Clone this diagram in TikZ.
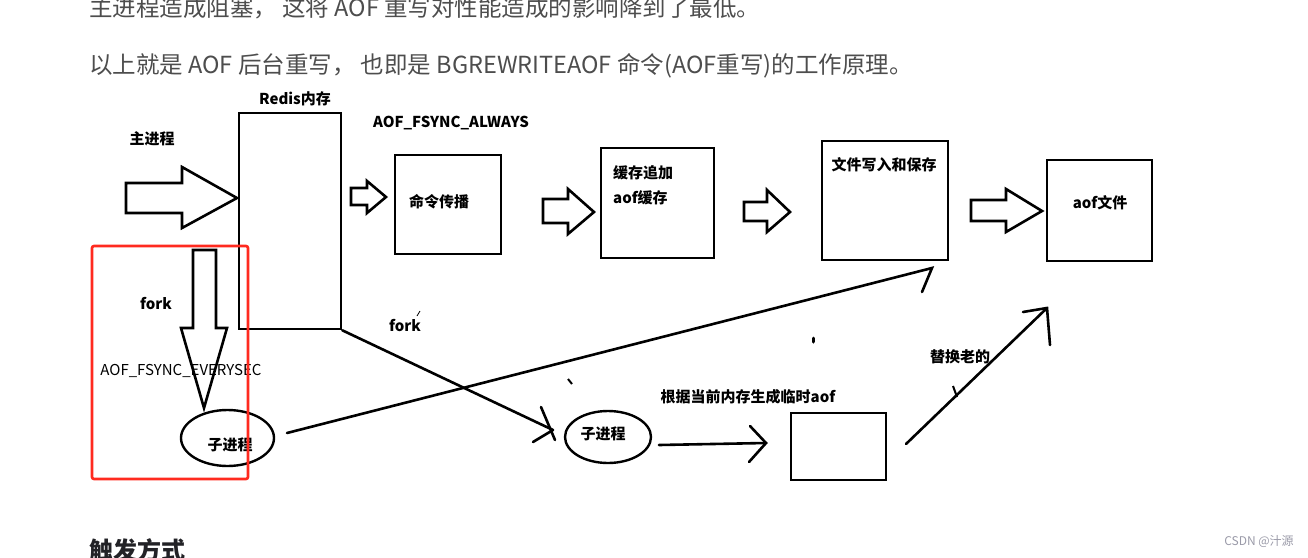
\documentclass[tikz,border=0pt]{standalone}
\usepackage{fontspec}
\setmainfont{Noto Sans CJK SC}
\usepackage{tikz}
\usetikzlibrary{shapes.geometric, calc}

\definecolor{textgrey}{HTML}{4D4D4D}
\definecolor{headgrey}{HTML}{222226}
\definecolor{csdngrey}{HTML}{9A9AA8}
\definecolor{markred}{HTML}{FF2A1F}

\tikzset{
  box/.style={draw, rectangle, line width=2.6pt, inner sep=0pt},
  blockarrow/.style={draw, line width=2.6pt, fill=white, line join=miter},
  proc/.style={draw, ellipse, line width=2.4pt, inner sep=0pt},
  stroke/.style={line width=2.6pt, line cap=round},
  lbl/.style={font=\bfseries\fontsize{15}{18}\selectfont, inner sep=0pt},
  para/.style={font=\fontsize{23.5}{28}\selectfont, text=textgrey, anchor=west, inner sep=0pt},
}

\begin{document}
\begin{tikzpicture}[x=1pt, y=-1pt]
    \useasboundingbox (0,0) rectangle (1308,557);
    \clip (0,0) rectangle (1308,557);
    % Text around the sketch
    \node[para] (para1) at (89,8) {主进程造成阻塞，\ 这将 AOF 重写对性能造成的影响降到了最低。};
    \node[para] (para2) at (89,66) {以上就是 AOF 后台重写，\ 也即是 BGREWRITEAOF 命令(AOF重写)的工作原理。};
    \node[anchor=west, inner sep=0pt, text=headgrey, font=\bfseries\fontsize{24}{28}\selectfont] (trigger) at (89,550) {触发方式};
    \node[inner sep=0pt, text=csdngrey, font=\fontsize{12}{14}\selectfont] (csdn) at (1259,542) {CSDN @汁源};

    % Block arrows
    \draw[blockarrow] (126,183) -- (182,183) -- (182,167) -- (237,198) -- (182,228) -- (182,213) -- (126,213) -- cycle;
    \draw[blockarrow] (351,188) -- (367,188) -- (367,181) -- (386,197) -- (367,213) -- (367,205) -- (351,205) -- cycle;
    \draw[blockarrow] (543,199) -- (568,199) -- (568,189) -- (594,212) -- (568,234) -- (568,223) -- (543,223) -- cycle;
    \draw[blockarrow] (744,202) -- (767,202) -- (767,190) -- (790,212) -- (767,232) -- (767,221) -- (744,221) -- cycle;
    \draw[blockarrow] (971,200) -- (1006,200) -- (1006,189) -- (1042,211) -- (1006,232) -- (1006,221) -- (971,221) -- cycle;
    \draw[blockarrow] (193,250) -- (216,250) -- (216,328) -- (227,328) -- (204,408) -- (181,328) -- (193,328) -- cycle;

    % Boxes
    \node[box, minimum width=102pt, minimum height=216pt] (redis) at (290,221) {};
    \node[box, minimum width=106pt, minimum height=99pt] (spread) at (448,204.5) {};
    \node[box, minimum width=113pt, minimum height=110pt] (buffer) at (657.5,203) {};
    \node[box, minimum width=126pt, minimum height=119pt] (filesave) at (885,200.5) {};
    \node[box, minimum width=105pt, minimum height=101pt] (aoffile) at (1099.5,210.5) {};
    \node[box, minimum width=95pt, minimum height=67pt] (tempaof) at (838.5,446.5) {};

    % Child processes
    \node[proc, minimum width=93pt, minimum height=56pt] (child1) at (227.5,438) {};
    \node[proc, minimum width=86pt, minimum height=52pt] (child2) at (608,437) {};

    % Labels
    \node[lbl] (redislbl) at (295,99) {Redis内存};
    \node[lbl] (mainlbl) at (152,139) {主进程};
    \node[lbl] (alwayslbl) at (451,123) {AOF\_FSYNC\_ALWAYS};
    \node[lbl] (spreadlbl) at (439,202) {命令传播};
    \node[lbl, anchor=west] (bufferlbl) at (613,173) {缓存追加};
    \node[lbl, anchor=west] (bufferlbl2) at (613,198) {aof缓存};
    \node[lbl] (filesavelbl) at (884,165) {文件写入和保存};
    \node[lbl] (aoffilelbl) at (1100,203) {aof文件};
    \node[lbl] (forklbl) at (156,304) {fork};
    \node[lbl, font=\fontsize{15}{18}\selectfont] (everylbl) at (181,371) {AOF\_FSYNC\_EVERYSEC};
    \node[lbl] (child1lbl) at (230,445) {子进程};
    \node[lbl] (forklbl2) at (405,326) {fork};
    \node[lbl] (child2lbl) at (603,434) {子进程};
    \node[lbl] (genlbl) at (748,397) {根据当前内存生成临时aof};
    \node[lbl] (replacelbl) at (960,357) {替换老的};

    % Hand drawn connectors
    \coordinate (forktip) at (553,430);
    \draw[stroke] (redis.south east) -- (forktip);
    \draw[stroke] (forktip) ++(-12,-23) -- ++(14,33);
    \draw[stroke] (forktip) -- ++(-20,12);

    \coordinate (child1out) at (287,433);
    \coordinate (filetip) at (932,268);
    \draw[stroke] (child1out) -- (filetip) -- ++(-10,24);

    \coordinate (child2out) at (659,445);
    \coordinate (temptip) at (766,443);
    \draw[stroke] (child2out) -- (temptip);
    \draw[stroke] (temptip) ++(-16,-17) -- (temptip) -- ++(-17,19);

    \coordinate (tempout) at (906,444);
    \coordinate (aoftip) at (1047,308);
    \draw[stroke] (tempout) -- (aoftip);
    \draw[stroke] (aoftip) ++(-24,4) -- (aoftip) -- ++(3,37);
    \draw[line width=2pt] (953,386) -- (957,397);

    % stray pen marks
    \draw[line width=2pt] (568,379) -- (572,384);
    \draw[line width=3pt, line cap=round] (813,338) -- (813,342);
    \draw[line width=0.8pt] (420,311) -- (417,316);

    % Red highlight
    \draw[markred, line width=2.6pt, rounded corners=2pt] (92,246) rectangle (248,479);
\end{tikzpicture}
\end{document}
